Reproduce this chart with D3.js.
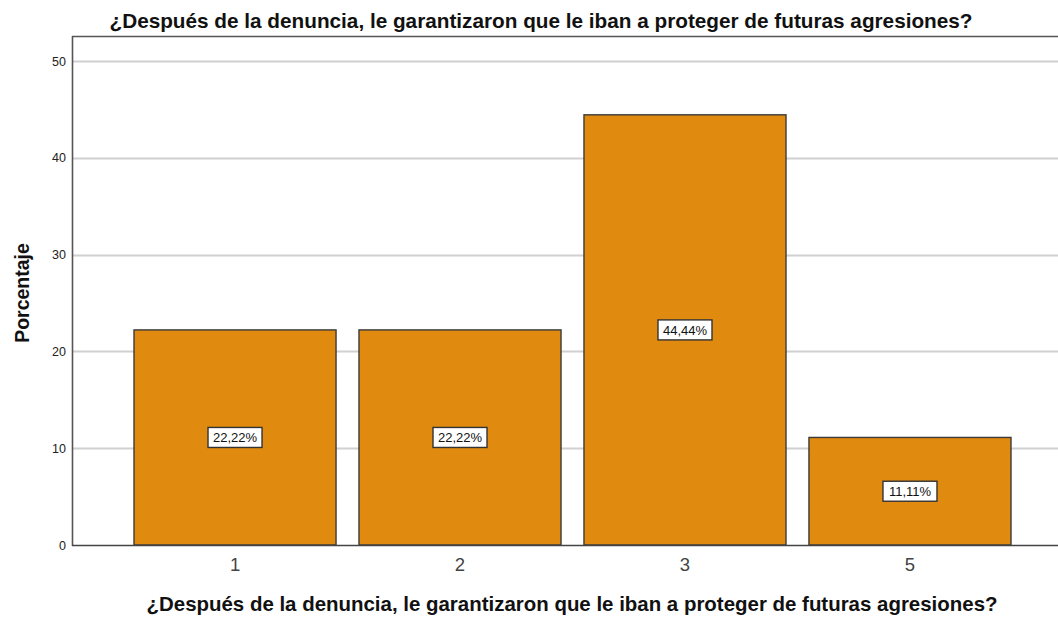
<!DOCTYPE html>
<html>
<head>
<meta charset="utf-8">
<script src="https://cdn.jsdelivr.net/npm/d3@7"></script>
<style>
  body { margin: 0; background: #fff; }
  svg { font-family: "Liberation Sans", Arial, sans-serif; display: block; }
</style>
</head>
<body>
<div id="chart"></div>
<script>
// data
var categories = ['1', '2', '3', '5'];
var percents   = [22.22, 22.22, 44.44, 11.11];
var pctLabels  = ['22,22%', '22,22%', '44,44%', '11,11%'];
var yTicks     = [0, 10, 20, 30, 40, 50];
var titleText  = '¿Después de la denuncia, le garantizaron que le iban a proteger de futuras agresiones?';

var W = 1058, H = 618;
var plotLeft = 72, plotTop = 36, plotBottom = 545, plotRight = 1073;
var FONT = '"Liberation Sans", Arial, sans-serif';

var svg = d3.select('#chart').append('svg').attr('width', W).attr('height', H);

var x = d3.scaleBand().domain(categories).range([plotLeft, plotRight])
    .paddingInner(0.102).paddingOuter(0.2756);
var y = d3.scaleLinear().domain([0, 50]).range([plotBottom, 61]);

// gridlines
svg.append('g').selectAll('line').data(yTicks.filter(function(t){ return t > 0; })).join('line')
    .attr('x1', plotLeft).attr('x2', W)
    .attr('y1', function(d){ return Math.round(y(d)) + 0.5; })
    .attr('y2', function(d){ return Math.round(y(d)) + 0.5; })
    .attr('stroke', '#d0d0d0').attr('stroke-width', 2);

// bars
svg.append('g').selectAll('rect').data(percents).join('rect')
    .attr('x', function(d, i){ return x(categories[i]); })
    .attr('y', function(d){ return y(d); })
    .attr('width', x.bandwidth())
    .attr('height', function(d){ return y(0) - y(d); })
    .attr('fill', '#e08a10')
    .attr('stroke', '#3a3a3a').attr('stroke-width', 1.4);

// value labels
var lab = svg.append('g').selectAll('g').data(percents).join('g')
    .attr('transform', function(d, i){
        return 'translate(' + (x(categories[i]) + x.bandwidth() / 2) + ',' + y(d / 2) + ')';
    });
lab.append('rect').attr('x', -27).attr('y', -10).attr('width', 54).attr('height', 20)
    .attr('fill', '#fff').attr('stroke', '#333').attr('stroke-width', 1.4);
lab.append('text').attr('text-anchor', 'middle').attr('dy', '0.36em')
    .attr('font-size', 13).attr('fill', '#111')
    .text(function(d, i){ return pctLabels[i]; });

// frame: top line, left axis, bottom axis
svg.append('line').attr('x1', plotLeft).attr('x2', W).attr('y1', plotTop + 0.5).attr('y2', plotTop + 0.5)
    .attr('stroke', '#555').attr('stroke-width', 1.6);

var yAxis = svg.append('g').attr('transform', 'translate(' + plotLeft + ',0)')
    .call(d3.axisLeft(y).tickValues(yTicks).tickSize(0).tickPadding(6).tickFormat(d3.format('d')));
yAxis.select('.domain').remove();
yAxis.selectAll('.tick text').attr('font-size', 12.5).attr('fill', '#222').attr('font-family', FONT);
svg.append('line').attr('x1', plotLeft + 0.5).attr('x2', plotLeft + 0.5).attr('y1', plotTop).attr('y2', plotBottom + 1)
    .attr('stroke', '#555').attr('stroke-width', 1.6);

var xAxis = svg.append('g').attr('transform', 'translate(0,' + plotBottom + ')')
    .call(d3.axisBottom(x).tickSize(0).tickPadding(13));
xAxis.select('.domain').remove();
xAxis.selectAll('.tick text').attr('font-size', 18.5).attr('fill', '#444').attr('font-family', FONT);
svg.append('line').attr('x1', plotLeft).attr('x2', W).attr('y1', plotBottom + 0.5).attr('y2', plotBottom + 0.5)
    .attr('stroke', '#444').attr('stroke-width', 1.6);

// titles
svg.append('text').attr('x', 541).attr('y', 28).attr('text-anchor', 'middle')
    .attr('font-size', 20.5).attr('font-weight', 'bold').attr('fill', '#111')
    .attr('textLength', 863).attr('lengthAdjust', 'spacingAndGlyphs')
    .text(titleText);
svg.append('text').attr('x', 572).attr('y', 611).attr('text-anchor', 'middle')
    .attr('font-size', 20.5).attr('font-weight', 'bold').attr('fill', '#111')
    .attr('textLength', 851).attr('lengthAdjust', 'spacingAndGlyphs')
    .text(titleText);
svg.append('text').attr('transform', 'translate(29,293) rotate(-90)').attr('text-anchor', 'middle')
    .attr('font-size', 19.5).attr('font-weight', 'bold').attr('fill', '#111')
    .text('Porcentaje');
</script>
</body>
</html>
